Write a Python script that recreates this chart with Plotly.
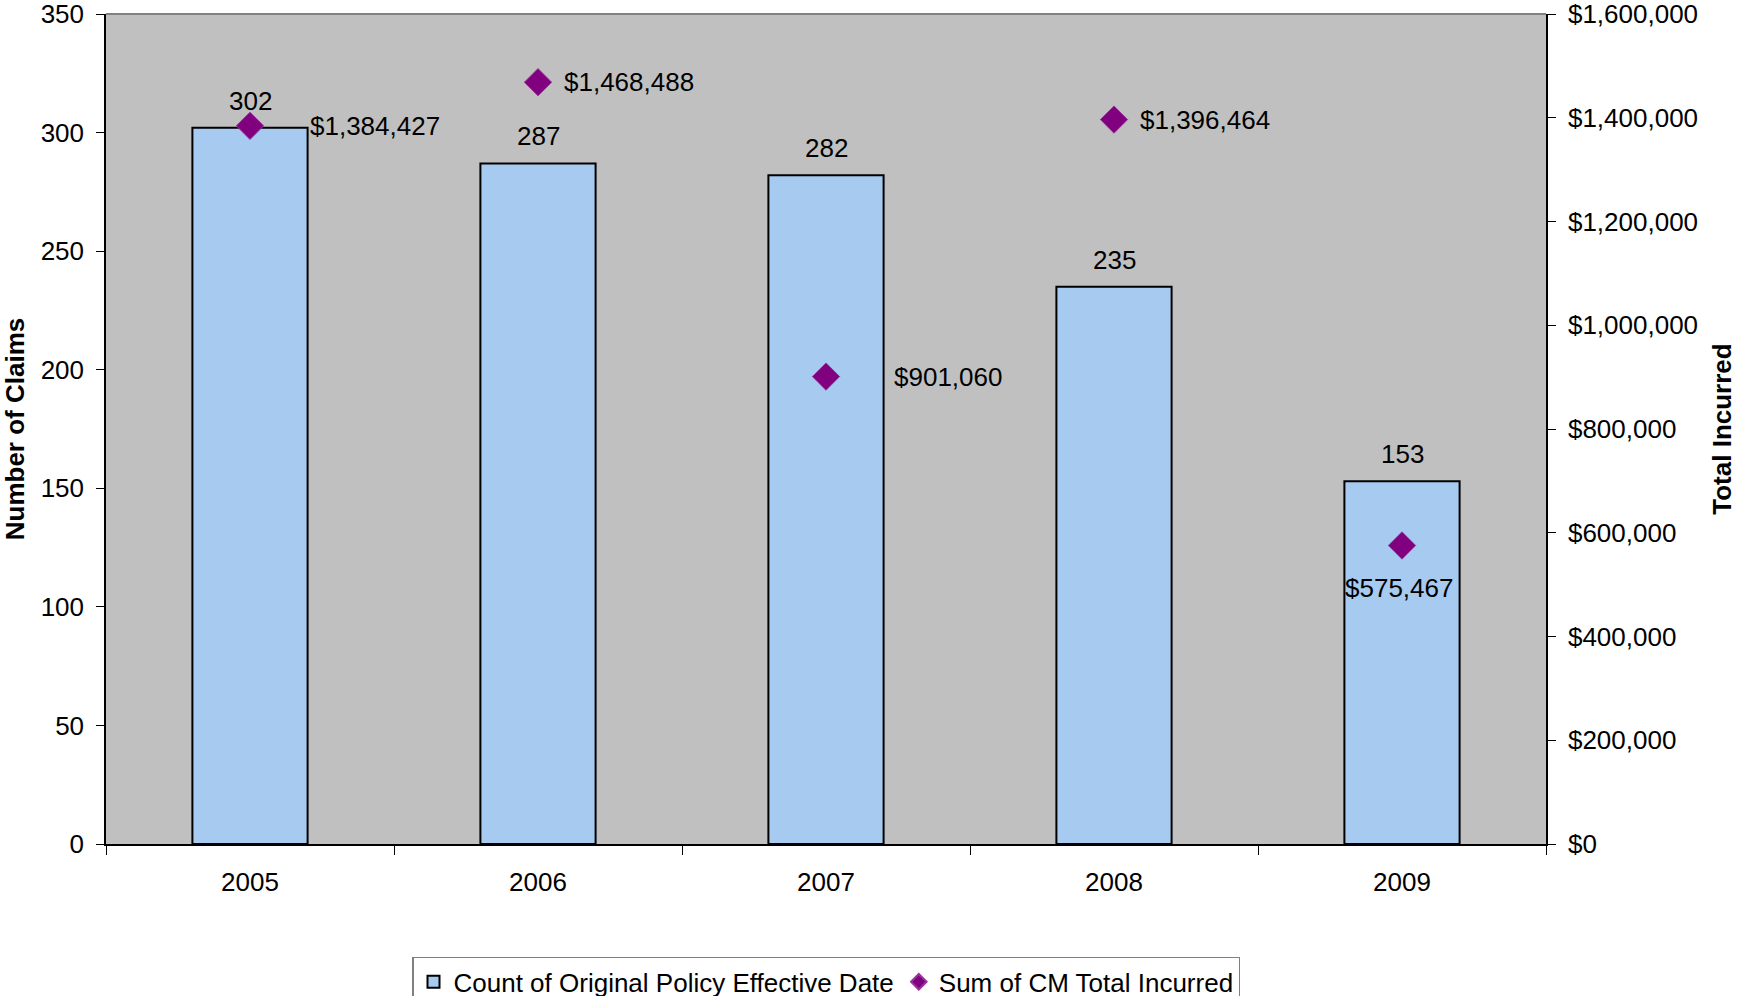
import plotly.graph_objects as go

years = ["2005", "2006", "2007", "2008", "2009"]
claims = [302, 287, 282, 235, 153]
incurred = [1384427, 1468488, 901060, 1396464, 575467]

bar_name = "Count of Original Policy Effective Date"
sc_name = "Sum of CM Total Incurred"

FONT = "Liberation Sans, Arial, sans-serif"
FS = 26

fig = go.Figure()
fig.add_trace(go.Bar(
    x=years, y=claims, name=bar_name, width=0.4,
    marker=dict(color="#A6CAF0", line=dict(color="#000000", width=2)),
))
fig.add_trace(go.Scatter(
    x=years, y=incurred, name=sc_name, mode="markers", yaxis="y2",
    marker=dict(symbol="diamond", size=21, color="#800080",
                line=dict(color="#993399", width=1)),
    cliponaxis=False,
))

# bar value labels above each bar
for i, v in enumerate(claims):
    fig.add_annotation(x=i, xref="x", y=v, yref="y", text=str(v), showarrow=False,
                       yshift=27, xanchor="center", yanchor="middle",
                       font=dict(family=FONT, size=FS, color="#000000"))

# label placement offsets (styling) for the incurred labels
shifts = [(58, 0, "left", "middle"), (24, 0, "left", "middle"),
          (66, 0, "left", "middle"), (24, 0, "left", "middle"),
          (-3, -43, "center", "middle")]
for i, (v, (dx, dy, xa, ya)) in enumerate(zip(incurred, shifts)):
    fig.add_annotation(x=i, xref="x", y=v, yref="y2", text=f"${v:,.0f}", showarrow=False,
                       xshift=dx, yshift=dy, xanchor=xa, yanchor=ya,
                       font=dict(family=FONT, size=FS, color="#000000"))

fig.update_layout(
    width=1737, height=996,
    margin=dict(l=106, r=191, t=14, b=152, autoexpand=False),
    paper_bgcolor="#FFFFFF", plot_bgcolor="#C0C0C0",
    font=dict(family=FONT, size=FS, color="#000000"),
    showlegend=True,
    legend=dict(orientation="h", x=0.5, xanchor="center", y=-0.136, yanchor="top",
                bordercolor="#808080", borderwidth=1.5, bgcolor="#FFFFFF",
                font=dict(family=FONT, size=FS), itemsizing="constant",
                tracegroupgap=0),
    xaxis=dict(type="category", range=[-0.5, len(years) - 0.5], automargin=False,
               showline=True, linecolor="#000000", linewidth=1.5,
               ticks="outside", tickson="boundaries", ticklen=9, tickcolor="#000000",
               showgrid=False, ticklabelstandoff=14, tickangle=0,
               tickfont=dict(family=FONT, size=FS)),
    yaxis=dict(range=[0, 350], tickvals=[0, 50, 100, 150, 200, 250, 300, 350],
               automargin=False, ticklabeloverflow="allow",
               showline=True, linecolor="#000000", linewidth=1.5,
               ticks="outside", ticklen=8, tickcolor="#000000", showgrid=False,
               zeroline=False, ticklabelstandoff=7,
               tickfont=dict(family=FONT, size=FS),
               title=dict(text="<b>Number of Claims</b>", standoff=17,
                          font=dict(family=FONT, size=FS))),
    yaxis2=dict(range=[0, 1600000],
                tickvals=[0, 200000, 400000, 600000, 800000, 1000000, 1200000, 1400000, 1600000],
                automargin=False, ticklabeloverflow="allow",
                overlaying="y", side="right",
                tickformat="$,.0f", showline=True, linecolor="#000000", linewidth=1.5,
                ticks="outside", ticklen=8, tickcolor="#000000", showgrid=False,
                zeroline=False, ticklabelstandoff=7,
                tickfont=dict(family=FONT, size=FS),
                title=dict(text="<b>Total Incurred</b>", standoff=20,
                           font=dict(family=FONT, size=FS))),
    shapes=[dict(type="line", xref="paper", yref="paper", x0=0, x1=1, y0=1, y1=1,
                 line=dict(color="#808080", width=2))],
)

fig.write_html("out.html", config={"displayModeBar": False},
               post_script="document.body.style.margin='0';document.body.style.overflow='hidden';")
